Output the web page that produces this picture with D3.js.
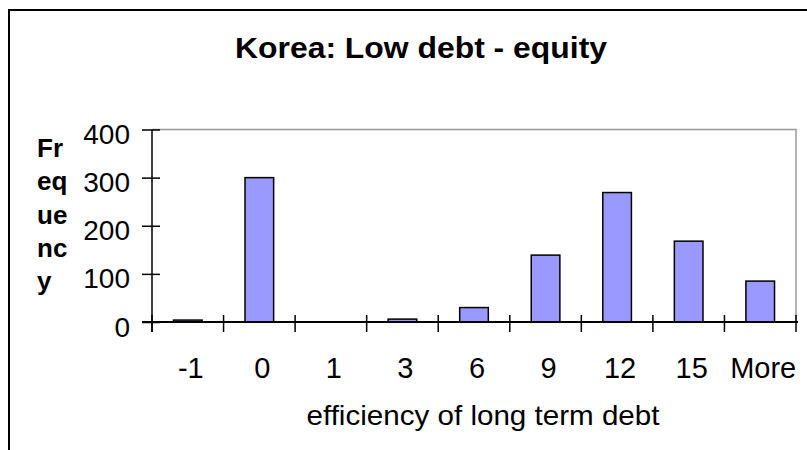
<!doctype HTML>
<html>
<head>
    <style>
        body { margin: 0; background: #fff; }
        text { font-family: Arial, "Liberation Sans", sans-serif; fill: #000; }
    </style>
    <script src="https://d3js.org/d3.v7.min.js"></script>
</head>
<body>
<div id="chart"></div>
<script>

    // data
    var categories = ["-1", "0", "1", "3", "6", "9", "12", "15", "More"];
    var frequency = [4, 300, 0, 6, 30, 139, 269, 168, 85];
    var yTicks = [0, 100, 200, 300, 400];
    var yTitleLines = ["Fr", "eq", "ue", "nc", "y"];

    var canvasWidth = 807;
    var canvasHeight = 450;

    var svg = d3.select("#chart").append("svg")
        .attr("width", canvasWidth)
        .attr("height", canvasHeight);

    // outer chart frame (only top and left show inside the picture)
    svg.append("rect")
        .attr("x", 9)
        .attr("y", 10)
        .attr("width", 900)
        .attr("height", 600)
        .attr("fill", "none")
        .attr("stroke", "#000")
        .attr("stroke-width", 2);

    var plotLeft = 152, plotRight = 796, plotTop = 129.5, plotBottom = 322;

    var x = d3.scaleBand()
        .domain(categories)
        .range([plotLeft, plotRight])
        .paddingInner(0.6)
        .paddingOuter(0.3);

    var y = d3.scaleLinear()
        .domain([0, 400])
        .range([plotBottom, plotTop]);

    // plot area border (grey top and right)
    svg.append("path")
        .attr("d", `M${plotLeft},${plotTop}H${plotRight}V${plotBottom}`)
        .attr("fill", "none")
        .attr("stroke", "#999")
        .attr("stroke-width", 1.5);

    // title
    svg.append("text")
        .attr("x", 421)
        .attr("y", 58)
        .attr("text-anchor", "middle")
        .attr("font-size", "30px")
        .attr("font-weight", "bold")
        .attr("textLength", 372)
        .attr("lengthAdjust", "spacingAndGlyphs")
        .text("Korea: Low debt - equity");

    // bars
    svg.append("g")
        .selectAll("rect")
        .data(categories)
        .join("rect")
        .attr("x", d => x(d))
        .attr("y", (d, i) => y(frequency[i]))
        .attr("width", x.bandwidth())
        .attr("height", (d, i) => plotBottom - y(frequency[i]))
        .attr("fill", "#9999ff")
        .attr("stroke", "#000")
        .attr("stroke-width", 1.5);

    // y axis
    var yAxis = svg.append("g")
        .attr("transform", `translate(${plotLeft},0)`)
        .call(d3.axisLeft(y).tickValues(yTicks).tickSizeInner(10).tickSizeOuter(0).tickPadding(12));
    yAxis.select(".domain").attr("stroke", "#000").attr("stroke-width", 1.5)
        .attr("d", `M0,${plotTop}V${plotBottom + 10}`);
    yAxis.selectAll(".tick line").attr("x1", -10).attr("x2", 8).attr("stroke-width", 1.5);
    yAxis.selectAll(".tick text")
        .attr("font-size", "28px")
        .attr("font-family", "Arial, 'Liberation Sans', sans-serif")
        .attr("x", -22)
        .attr("dy", "0.5em");

    // x axis line and category boundary ticks
    var gap = (x.step() - x.bandwidth()) / 2;
    var boundaries = categories.map(d => x(d) - gap).concat([x(categories[categories.length - 1]) + x.bandwidth() + gap]);

    svg.append("line")
        .attr("x1", plotLeft - 10)
        .attr("x2", plotRight + 2)
        .attr("y1", plotBottom)
        .attr("y2", plotBottom)
        .attr("stroke", "#000")
        .attr("stroke-width", 2);

    svg.append("g")
        .selectAll("line")
        .data(boundaries)
        .join("line")
        .attr("x1", d => d)
        .attr("x2", d => d)
        .attr("y1", plotBottom - 7)
        .attr("y2", plotBottom + 10)
        .attr("stroke", "#000")
        .attr("stroke-width", 1.5);

    // x tick labels
    svg.append("g")
        .selectAll("text")
        .data(categories)
        .join("text")
        .attr("x", d => x(d) + x.bandwidth() / 2 + 3)
        .attr("y", 378)
        .attr("text-anchor", "middle")
        .attr("font-size", "29px")
        .text(d => d);

    // x axis title
    svg.append("text")
        .attr("x", 483)
        .attr("y", 425)
        .attr("text-anchor", "middle")
        .attr("font-size", "28px")
        .attr("textLength", 353)
        .attr("lengthAdjust", "spacingAndGlyphs")
        .text("efficiency of long term debt");

    // y axis title, wrapped like the original
    svg.append("g")
        .selectAll("text")
        .data(yTitleLines)
        .join("text")
        .attr("x", 37)
        .attr("y", (d, i) => 157 + i * 33.3)
        .attr("font-size", "26px")
        .attr("font-weight", "bold")
        .text(d => d);

</script>
</body>
</html>
